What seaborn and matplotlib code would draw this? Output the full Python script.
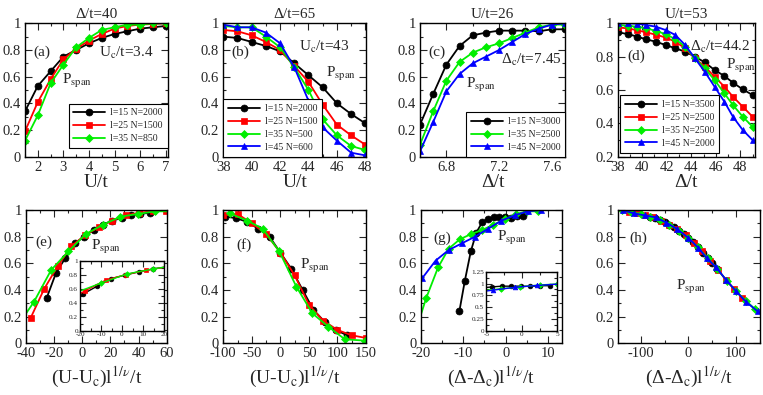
import numpy as np
import pandas as pd
import matplotlib
matplotlib.use("Agg")
import matplotlib.pyplot as plt
from matplotlib.ticker import MultipleLocator, FuncFormatter, FixedLocator
import seaborn as sns

sns.set_style("ticks")
plt.rcParams['font.family'] = ['Liberation Serif', 'DejaVu Serif']
plt.rcParams['mathtext.fontset'] = 'stix'

# ---------------- data ----------------
# (a) Delta/t = 40
a_x = [1.5, 2, 2.5, 3, 3.5, 4, 4.5, 5, 5.5, 6, 6.5, 7]
a_l15 = [0.34, 0.53, 0.64, 0.75, 0.80, 0.85, 0.89, 0.92, 0.94, 0.96, 0.97, 0.98]
a_l25 = [0.19, 0.41, 0.58, 0.73, 0.81, 0.87, 0.92, 0.96, 0.98, 0.99, 0.995, 1.0]
a_l35 = [0.12, 0.31, 0.55, 0.69, 0.82, 0.89, 0.95, 0.97, 0.99, 0.99, 1.0, 1.0]
a_labels = ["l=15 N=2000", "l=25 N=1500", "l=35 N=850"]

# (b) Delta/t = 65
b_x = [38, 39, 40, 41, 42, 43, 44, 45, 46, 47, 48]
b_l15 = [0.90, 0.89, 0.86, 0.83, 0.79, 0.70, 0.61, 0.52, 0.40, 0.32, 0.25]
b_l25 = [0.95, 0.94, 0.91, 0.86, 0.80, 0.68, 0.56, 0.39, 0.24, 0.16, 0.09]
b_l35 = [0.98, 0.97, 0.97, 0.90, 0.82, 0.67, 0.50, 0.28, 0.16, 0.08, 0.05]
b_l45 = [0.99, 0.97, 0.97, 0.93, 0.85, 0.67, 0.42, 0.22, 0.12, 0.03, 0.01]
b_labels = ["l=15 N=2000", "l=25 N=1500", "l=35 N=500", "l=45 N=600"]

# (c) U/t = 26
c_x = [6.6, 6.7, 6.8, 6.9, 7.0, 7.1, 7.2, 7.3, 7.4, 7.5, 7.6, 7.7]
c_l15 = [0.24, 0.47, 0.69, 0.83, 0.91, 0.93, 0.945, 0.945, 0.945, 0.94, 0.955, 0.955]
c_l35 = [0.09, 0.34, 0.57, 0.71, 0.78, 0.82, 0.85, 0.89, 0.93, 0.97, 0.99, 0.99]
c_l45 = [0.04, 0.26, 0.49, 0.62, 0.70, 0.75, 0.80, 0.86, 0.92, 0.96, 0.99, 1.0]
c_labels = ["l=15 N=3000", "l=35 N=2500", "l=45 N=2000"]

# (d) U/t = 53
d_x = [38.0, 38.8, 39.6, 40.3, 41.1, 41.9, 42.7, 43.5, 44.3, 45.1, 45.9, 46.7, 47.4, 48.2, 49.0]
d_l15 = [0.946, 0.936, 0.92, 0.904, 0.89, 0.87, 0.85, 0.83, 0.80, 0.766, 0.72, 0.684, 0.644, 0.604, 0.57]
d_l25 = [0.975, 0.97, 0.958, 0.946, 0.932, 0.915, 0.89, 0.85, 0.79, 0.74, 0.68, 0.62, 0.56, 0.50, 0.44]
d_l35 = [0.99, 0.985, 0.98, 0.97, 0.955, 0.935, 0.905, 0.86, 0.79, 0.73, 0.66, 0.58, 0.51, 0.44, 0.38]
d_l45 = [1.0, 1.0, 0.997, 0.99, 0.98, 0.96, 0.93, 0.87, 0.79, 0.71, 0.62, 0.53, 0.44, 0.36, 0.30]
d_labels = ["l=15 N=3500", "l=25 N=2500", "l=35 N=2500", "l=45 N=2000"]

# (e) scaling collapse of (a)
e_x15 = [-25.3, -18.6, -12.0, -5.3, 1.3, 8.0, 14.6, 21.3, 28.0, 34.6, 41.2, 47.9]
e_x25 = [-36.7, -27.0, -17.4, -7.7, 1.9, 11.6, 21.2, 30.9, 40.5, 50.2, 59.8, 69.5]
e_x35 = [-46.7, -34.4, -22.1, -9.8, 2.5, 14.8, 27.1, 39.4, 51.7, 64.0, 76.3, 88.6]

# (f) scaling collapse of (b)
f_x15 = [-97, -78, -58, -39, -19, 0, 19, 39, 58, 78, 97, 117]
f_y15 = [0.95, 0.94, 0.91, 0.86, 0.80, 0.68, 0.56, 0.40, 0.25, 0.16, 0.10, 0.06]
f_x25 = [-100, -75, -50, -25, 0, 25, 50, 75, 100, 125, 150]
f_y25 = [0.96, 0.97, 0.90, 0.82, 0.68, 0.51, 0.29, 0.17, 0.10, 0.06, 0.04]
f_x35 = [-89, -58, -31, -2, 28, 56, 84, 113, 148]
f_y35 = [0.975, 0.92, 0.86, 0.69, 0.425, 0.225, 0.125, 0.03, 0.02]

# (g) scaling collapse of (c)
g_x15 = [-10.9, -9.6, -8.2, -6.9, -5.5, -4.2, -2.8, -1.5, -0.1, 1.2, 2.6, 4.0]
g_x35 = [-21.2, -18.7, -15.9, -13.4, -10.8, -8.1, -5.5, -2.9, -0.2, 2.5, 5.0, 7.6]
g_x45 = [-25.8, -22.7, -19.6, -16.5, -13.4, -10.3, -7.2, -4.1, -1.0, 2.1, 5.2, 8.3]

# (h) scaling collapse of (d)
h_x15 = [-80, -70, -60, -50, -40, -30, -20, -10, 0, 10, 20, 30, 40, 50, 60]
h_y15 = [0.95, 0.94, 0.925, 0.91, 0.89, 0.87, 0.845, 0.82, 0.79, 0.76, 0.72, 0.68, 0.64, 0.60, 0.56]
h_x25 = [-125, -108, -91, -74, -57, -40, -23, -6, 11, 28, 45, 62, 79, 96, 113]
h_y25 = [0.985, 0.975, 0.96, 0.945, 0.92, 0.89, 0.855, 0.81, 0.755, 0.69, 0.62, 0.55, 0.475, 0.405, 0.34]
h_x35 = [-140, -120, -100, -80, -60, -40, -20, 0, 20, 40, 60, 80, 100, 120, 140]
h_y35 = [1.0, 0.985, 0.97, 0.95, 0.925, 0.89, 0.845, 0.79, 0.72, 0.64, 0.56, 0.47, 0.39, 0.32, 0.255]
h_x45 = [-138, -115, -92, -69, -46, -23, 0, 21, 38, 58, 79, 100, 121, 145]
h_y45 = [1.0, 0.975, 0.96, 0.945, 0.905, 0.855, 0.79, 0.715, 0.64, 0.57, 0.475, 0.39, 0.31, 0.24]

STY = {
    15: dict(color="#000000", marker="o"),
    25: dict(color="#ff0000", marker="s"),
    35: dict(color="#00ee00", marker="D"),
    45: dict(color="#0000ff", marker="^"),
}

W, H = 763, 395
fig = plt.figure(figsize=(W / 100, H / 100), dpi=100)

TICK = 10.5
TS = 11
LS = 14
AS = 11
LEG = 7
INS = 5.2


def box(l, t, r, b):
    return [l / W, 1 - b / H, (r - l) / W, (b - t) / H]


def fmt(v, p):
    return "%g" % round(v, 6)


def series(ax, x, y, l, label=None, ms=5.0, lw=1.3):
    s = STY[l]
    ms_ = ms * (0.85 if s["marker"] == "D" else 1.0)
    sns.lineplot(x=x, y=y, ax=ax, color=s["color"], marker=s["marker"],
                 markersize=ms_, markeredgecolor=s["color"], markeredgewidth=0.5,
                 linewidth=lw, label=label, sort=False,
                 legend=False if label is None else "auto")


def style(ax, xl, xmaj, xmin, yl, ymaj, ymin, fs=TICK):
    ax.set_xlim(*xl)
    ax.set_ylim(*yl)
    ax.xaxis.set_major_locator(MultipleLocator(xmaj))
    ax.xaxis.set_minor_locator(MultipleLocator(xmin))
    ax.yaxis.set_major_locator(MultipleLocator(ymaj))
    ax.yaxis.set_minor_locator(MultipleLocator(ymin))
    ax.xaxis.set_major_formatter(FuncFormatter(fmt))
    ax.yaxis.set_major_formatter(FuncFormatter(fmt))
    ax.tick_params(which="both", direction="in", top=True, right=True,
                   labelsize=fs, width=0.8, pad=3)
    ax.tick_params(which="major", length=5)
    ax.tick_params(which="minor", length=2.5)
    for sp in ax.spines.values():
        sp.set_linewidth(1.0)
        sp.set_color("black")
    ax.set_ylabel("")


def legend(ax, loc, anchor):
    lg = ax.legend(loc=loc, bbox_to_anchor=anchor, fontsize=LEG, frameon=True,
                   fancybox=False, edgecolor="black", framealpha=1,
                   handlelength=3.3, labelspacing=0.4, borderpad=0.5,
                   handletextpad=0.5, borderaxespad=0)
    lg.get_frame().set_linewidth(0.8)


def inset_style(ins, xl, xmaj, xmin, yl, ymaj, ymin):
    style(ins, xl, xmaj, xmin, yl, ymaj, ymin, fs=INS)
    ins.tick_params(which="major", length=4, pad=1)
    ins.tick_params(which="minor", length=2)
    ins.tick_params(axis="y", pad=1.5)
    ins.set_xlabel("")


PS = r"P$_\mathrm{span}$"

# ---- top row ----
ax = fig.add_axes(box(25, 23.3, 167.7, 156.7))
series(ax, a_x, a_l15, 15, a_labels[0])
series(ax, a_x, a_l25, 25, a_labels[1])
series(ax, a_x, a_l35, 35, a_labels[2])
style(ax, (1.5, 7.08), 1, 0.5, (0, 1), 0.2, 0.1)
ax.set_title("Δ/t=40", fontsize=TS, pad=4)
ax.set_xlabel("U/t", fontsize=LS, labelpad=0)
ax.text(0.06, 0.785, "(a)", transform=ax.transAxes, fontsize=AS, va="center")
ax.text(0.52, 0.78, r"U$_\mathrm{c}$/t=3.4", transform=ax.transAxes, fontsize=AS, va="center")
ax.text(0.26, 0.57, PS, transform=ax.transAxes, fontsize=AS, va="center")
legend(ax, "lower right", (1.0, 0.065))

ax = fig.add_axes(box(223.3, 23.3, 366, 156.7))
series(ax, b_x, b_l15, 15, b_labels[0])
series(ax, b_x, b_l25, 25, b_labels[1])
series(ax, b_x, b_l35, 35, b_labels[2])
series(ax, b_x, b_l45, 45, b_labels[3])
style(ax, (38, 48.05), 2, 1, (0, 1), 0.2, 0.1)
ax.set_title("Δ/t=65", fontsize=TS, pad=4)
ax.set_xlabel("U/t", fontsize=LS, labelpad=0)
ax.text(0.06, 0.78, "(b)", transform=ax.transAxes, fontsize=AS, va="center")
ax.text(0.53, 0.82, r"U$_\mathrm{c}$/t=43", transform=ax.transAxes, fontsize=AS, va="center")
ax.text(0.72, 0.62, PS, transform=ax.transAxes, fontsize=AS, va="center")
legend(ax, "lower left", (0.0, 0.0))

ax = fig.add_axes(box(420, 23.3, 565, 156.7))
series(ax, c_x, c_l15, 15, c_labels[0])
series(ax, c_x, c_l35, 35, c_labels[1])
series(ax, c_x, c_l45, 45, c_labels[2])
style(ax, (6.6, 7.7), 0.4, 0.2, (0, 1), 0.2, 0.1)
ax.xaxis.set_major_locator(FixedLocator([6.8, 7.2, 7.6]))
ax.xaxis.set_minor_locator(FixedLocator([6.6, 7.0, 7.4]))
ax.set_title("U/t=26", fontsize=TS, pad=4)
ax.set_xlabel("Δ/t", fontsize=LS, labelpad=0)
ax.text(0.06, 0.78, "(c)", transform=ax.transAxes, fontsize=AS, va="center")
ax.text(0.56, 0.725, r"Δ$_\mathrm{c}$/t=7.45", transform=ax.transAxes, fontsize=AS, va="center")
ax.text(0.32, 0.54, PS, transform=ax.transAxes, fontsize=AS, va="center")
legend(ax, "lower right", (1.0, 0.0))

ax = fig.add_axes(box(617.7, 23.3, 755, 156.7))
series(ax, d_x, d_l15, 15, d_labels[0])
series(ax, d_x, d_l25, 25, d_labels[1])
series(ax, d_x, d_l35, 35, d_labels[2])
series(ax, d_x, d_l45, 45, d_labels[3])
style(ax, (38, 49.2), 2, 1, (0.2, 1), 0.2, 0.1)
ax.set_title("U/t=53", fontsize=TS, pad=4)
ax.set_xlabel("Δ/t", fontsize=LS, labelpad=0)
ax.text(0.07, 0.75, "(d)", transform=ax.transAxes, fontsize=AS, va="center")
ax.text(0.53, 0.82, r"Δ$_\mathrm{c}$/t=44.2", transform=ax.transAxes, fontsize=AS, va="center")
ax.text(0.79, 0.68, PS, transform=ax.transAxes, fontsize=AS, va="center")
legend(ax, "lower left", (0.015, 0.03))

# ---- bottom row ----
XU = r"(U-U$_\mathrm{c}$)l$^{1/\nu}$/t"
XD = r"(Δ-Δ$_\mathrm{c}$)l$^{1/\nu}$/t"

ax = fig.add_axes(box(26, 210, 166.7, 343.3))
series(ax, e_x15, a_l15, 15)
series(ax, e_x25, a_l25, 25)
series(ax, e_x35, a_l35, 35)
style(ax, (-40, 60), 20, 10, (0, 1), 0.2, 0.1)
ax.set_xlabel(XU, fontsize=LS, labelpad=3)
ax.text(0.07, 0.76, "(e)", transform=ax.transAxes, fontsize=AS, va="center")
ax.text(0.46, 0.72, PS, transform=ax.transAxes, fontsize=AS, va="center")
ins = fig.add_axes(box(80, 261.3, 164, 331))
series(ins, e_x15, a_l15, 15, ms=3.4, lw=1.0)
series(ins, e_x25, a_l25, 25, ms=3.4, lw=1.0)
series(ins, e_x35, a_l35, 35, ms=3.4, lw=1.0)
inset_style(ins, (-20, 20), 10, 5, (0, 1), 0.2, 0.1)

ax = fig.add_axes(box(223.3, 210, 366, 343.3))
series(ax, f_x15, f_y15, 15)
series(ax, f_x25, f_y25, 25)
series(ax, f_x35, f_y35, 35)
style(ax, (-100, 150), 50, 25, (0, 1), 0.2, 0.1)
ax.set_xlabel(XU, fontsize=LS, labelpad=3)
ax.text(0.09, 0.74, "(f)", transform=ax.transAxes, fontsize=AS, va="center")
ax.text(0.54, 0.58, PS, transform=ax.transAxes, fontsize=AS, va="center")

ax = fig.add_axes(box(420.7, 210, 561.7, 343.3))
series(ax, g_x15, c_l15, 15)
series(ax, g_x35, c_l35, 35)
series(ax, g_x45, c_l45, 45)
style(ax, (-20, 13.2), 10, 5, (0, 1), 0.2, 0.1)
ax.set_xlabel(XD, fontsize=LS, labelpad=3)
ax.text(0.09, 0.79, "(g)", transform=ax.transAxes, fontsize=AS, va="center")
ax.text(0.54, 0.79, PS, transform=ax.transAxes, fontsize=AS, va="center")
ins = fig.add_axes(box(486.3, 271.7, 557.3, 331))
series(ins, g_x15, c_l15, 15, ms=3.4, lw=1.0)
series(ins, g_x35, c_l35, 35, ms=3.4, lw=1.0)
series(ins, g_x45, c_l45, 45, ms=3.4, lw=1.0)
inset_style(ins, (-5, 5), 5, 2.5, (0, 1.25), 0.25, 0.125)

ax = fig.add_axes(box(618.3, 210, 760, 343.3))
series(ax, h_x15, h_y15, 15)
series(ax, h_x25, h_y25, 25)
series(ax, h_x35, h_y35, 35)
series(ax, h_x45, h_y45, 45)
style(ax, (-147, 150), 100, 50, (0, 1), 0.2, 0.1)
ax.set_xlabel(XD, fontsize=LS, labelpad=3)
ax.text(0.08, 0.79, "(h)", transform=ax.transAxes, fontsize=AS, va="center")
ax.text(0.41, 0.42, PS, transform=ax.transAxes, fontsize=AS, va="center")

fig.savefig("out.png", dpi=100)
